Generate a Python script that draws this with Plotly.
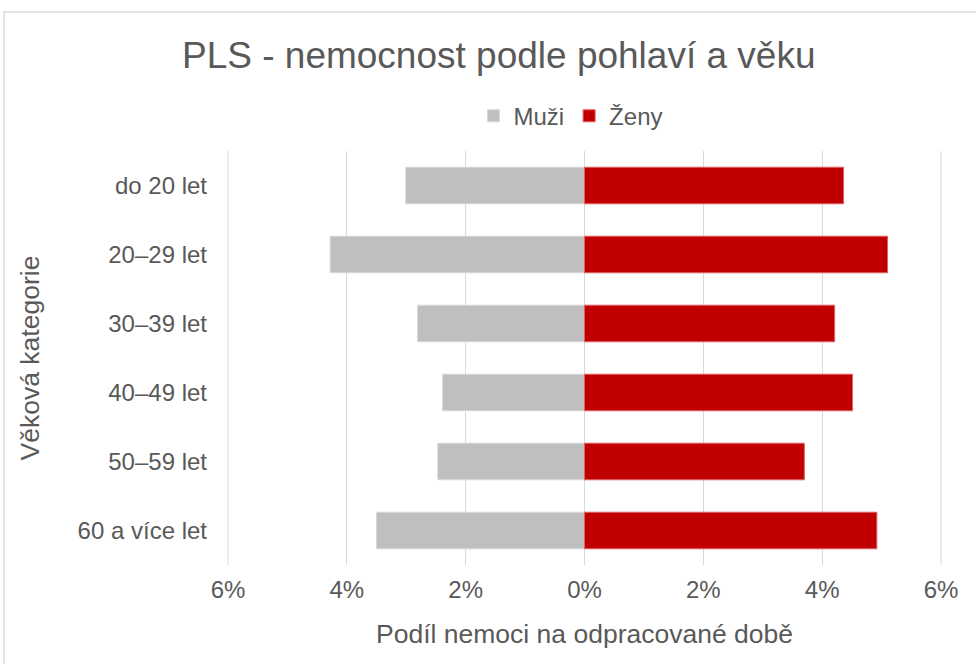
import plotly.graph_objects as go

categories = ["do 20 let", "20–29 let", "30–39 let", "40–49 let", "50–59 let", "60 a více let"]
muzi = [3.01, 4.28, 2.81, 2.39, 2.47, 3.50]
zeny = [4.36, 5.10, 4.21, 4.51, 3.70, 4.92]
tick_vals = [-6, -4, -2, 0, 2, 4, 6]
tick_text = ["6%", "4%", "2%", "0%", "2%", "4%", "6%"]

FONT = "Liberation Sans, Arial, sans-serif"
GREY = "#595959"

fig = go.Figure()
fig.add_trace(go.Bar(y=categories, x=[-v for v in muzi], orientation="h", name="Muži",
                     marker=dict(color="#BFBFBF", line=dict(color="#D9D9D9", width=1)),
                     width=0.53))
fig.add_trace(go.Bar(y=categories, x=zeny, orientation="h", name="Ženy",
                     marker=dict(color="#C00000", line=dict(color="#E06060", width=1)),
                     width=0.53))

fig.update_layout(
    width=976, height=664,
    barmode="relative",
    plot_bgcolor="white", paper_bgcolor="white",
    margin=dict(l=228, r=35, t=151, b=99, autoexpand=False),
    font=dict(family=FONT, color=GREY, size=24),
    title=dict(text="PLS - nemocnost podle pohlaví a věku", x=0.511, xanchor="center",
               y=0.917, yanchor="middle", font=dict(size=37, color=GREY, family=FONT)),
    legend=dict(orientation="h", x=0.481, xanchor="center", y=1.084, yanchor="middle",
                font=dict(size=24, color=GREY), itemwidth=30, traceorder="normal"),
    xaxis=dict(range=[-6, 6], tickvals=tick_vals, ticktext=tick_text,
               showgrid=True, gridcolor="#D9D9D9", gridwidth=1, zeroline=True,
               zerolinecolor="#D9D9D9", zerolinewidth=1, showline=False,
               ticks="", ticklabelstandoff=8, tickfont=dict(size=24, color=GREY),
               title=dict(text="Podíl nemoci na odpracované době", font=dict(size=26.5, color=GREY), standoff=22)),
    yaxis=dict(autorange="reversed", showgrid=False, showline=False, ticks="",
               ticklabelstandoff=20, tickfont=dict(size=24, color=GREY),
               title=dict(text="Věková kategorie", font=dict(size=26.5, color=GREY), standoff=30)),
    shapes=[dict(type="rect", xref="paper", yref="paper", x0=-0.314, x1=1.2, y0=-0.5, y1=1.336,
                 line=dict(color="#D9D9D9", width=1.5), fillcolor="rgba(0,0,0,0)", layer="below"),
            dict(type="line", xref="paper", yref="paper", x0=0, x1=0, y0=0, y1=1,
                 line=dict(color="#D9D9D9", width=1), layer="below"),
            dict(type="line", xref="paper", yref="paper", x0=1, x1=1, y0=0, y1=1,
                 line=dict(color="#D9D9D9", width=1), layer="below")],
)

fig.write_html("out.html", config={"displayModeBar": False},
               post_script="document.body.style.margin='0';")
